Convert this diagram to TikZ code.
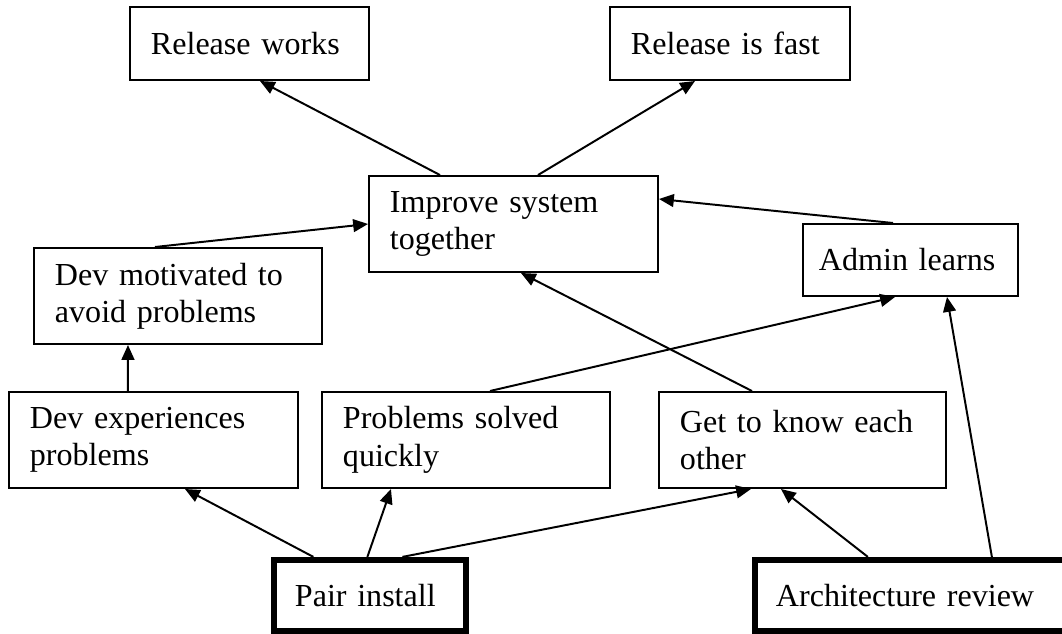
\documentclass[tikz,border=0pt]{standalone}
\usepackage{fontspec}
\setmainfont{Liberation Serif}
\usetikzlibrary{arrows.meta,calc}

\begin{document}
\begin{tikzpicture}[x=0.025cm, y=-0.025cm,
    box/.style={rectangle, draw=black, line width=1.4pt, align=left,
                inner xsep=0.525cm, inner ysep=0pt,
                font=\fontsize{22.8}{26.6}\selectfont},
    act/.style={box, line width=4.4pt},
    arr/.style={draw=black, line width=1.4pt,
                -{Triangle[length=0.37cm, width=0.32cm]}}]
  \useasboundingbox (0,0) rectangle (1062,633);
  % outcomes
  \node[box, text width=4.925cm, minimum height=1.825cm] (rw)  at (249.5,43.5) {Release works};
  \node[box, text width=4.95cm,  minimum height=1.825cm] (rf)  at (730,43.5)   {Release is fast};
  \node[box, text width=6.175cm, minimum height=2.4cm]   (imp) at (513.5,224)  {Improve system\\together};
  \node[box, text width=4.575cm, minimum height=1.8cm, inner xsep=0.4cm] (adm) at (910.5,260) {Admin learns};
  \node[box, text width=6.15cm,  minimum height=2.4cm]   (mot) at (178,296)    {Dev motivated to\\avoid problems};
  \node[box, text width=6.175cm, minimum height=2.4cm]   (exp) at (153.5,440)  {Dev experiences\\problems};
  \node[box, text width=6.15cm,  minimum height=2.4cm]   (sol) at (466,440)    {Problems solved\\quickly};
  \node[box, text width=6.125cm, minimum height=2.4cm]   (know) at (802.5,440) {Get to know each\\other};
  % practices
  \node[act, text width=3.75cm,  minimum height=1.775cm] (pair) at (370,595.5)  {Pair install};
  \node[act, text width=6.825cm, minimum height=1.775cm] (arch) at (912.5,595.5) {Architecture review};

  \draw[arr] ($(imp.north west)+(72,0)$)  -- ($(rw.south west)+(131,0)$);
  \draw[arr] ($(imp.north west)+(170,0)$) -- ($(rf.south west)+(86,0)$);
  \draw[arr] ($(mot.north west)+(122,0)$) -- ($(imp.north west)+(0,49)$);
  \draw[arr] ($(adm.north west)+(91,0)$)  -- ($(imp.north east)+(0,24)$);
  \draw[arr] ($(exp.north west)+(120,0)$) -- ($(mot.south west)+(95,0)$);
  \draw[arr] ($(know.north west)+(94,0)$) -- ($(imp.south west)+(153,0)$);
  \draw[arr] ($(sol.north west)+(169,0)$) -- ($(adm.south west)+(93,0)$);
  \draw[arr] ($(pair.north west)+(42.5,0)$)  -- ($(exp.south west)+(177,0)$);
  \draw[arr] ($(pair.north west)+(96.5,0)$)  -- ($(sol.south west)+(70,0)$);
  \draw[arr] ($(pair.north west)+(131.5,0)$) -- ($(know.south west)+(93,0)$);
  \draw[arr] ($(arch.north west)+(116,0)$)   -- ($(know.south west)+(123,0)$);
  \draw[arr] ($(arch.north west)+(240,0)$)   -- ($(adm.south west)+(145,0)$);
\end{tikzpicture}
\end{document}
